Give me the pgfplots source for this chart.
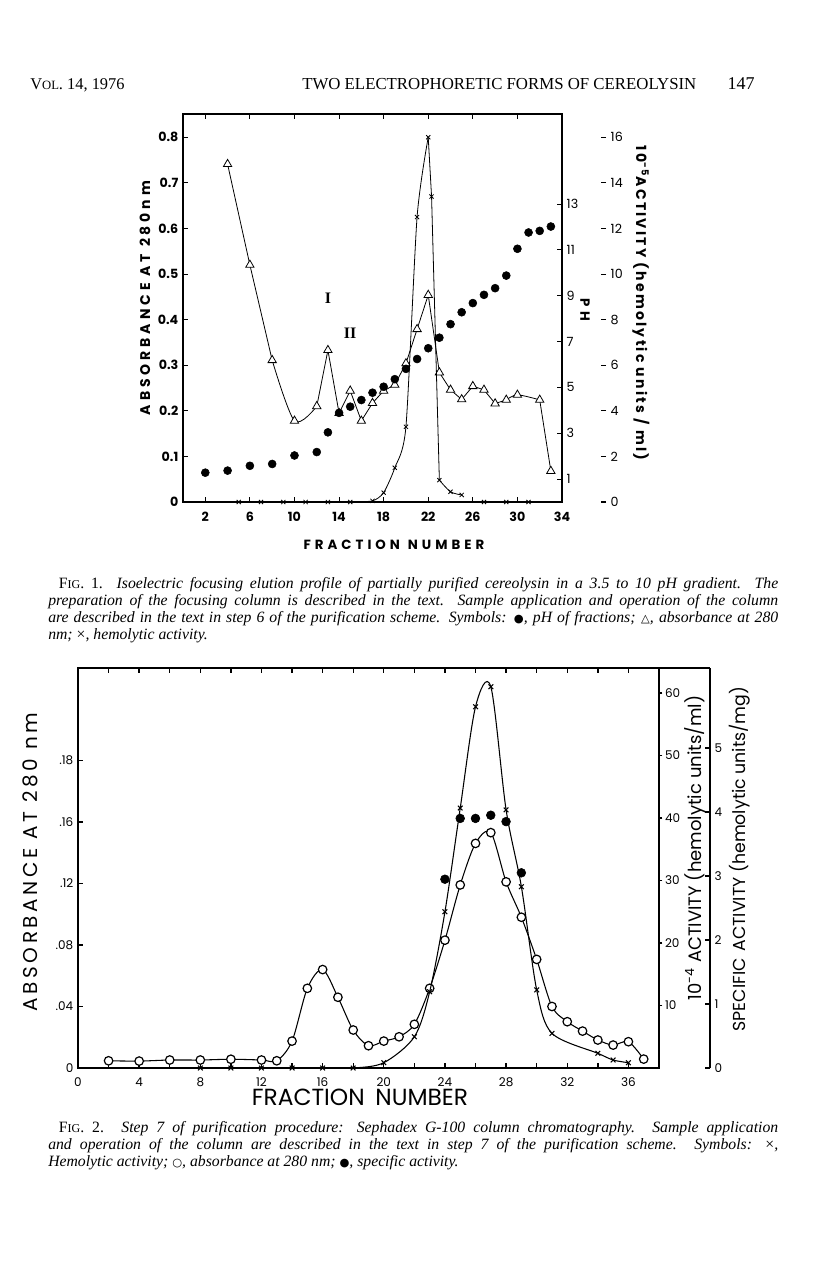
\documentclass[border=0pt]{standalone}
\usepackage{pgfplots}
\pgfplotsset{compat=1.18}
\usepackage{pgfplotstable}
\usepackage{fontspec}
\setmainfont{Liberation Serif}
\newfontfamily\figfont{Poppins}
\newfontfamily\symfont{DejaVu Sans}

% ---------- Fig. 1: isoelectric focusing ----------
% absorbance at 280 nm (triangles)
\pgfplotstableread{
frac abs
4 0.741
6 0.520
8 0.311
10 0.178
12 0.210
13 0.333
14 0.195
15 0.244
16 0.178
17 0.217
18 0.244
19 0.257
20 0.304
21 0.379
22 0.454
23 0.284
24 0.246
25 0.225
26 0.254
27 0.246
28 0.216
29 0.224
30 0.235
32 0.224
33 0.068
}\absone

% pH of fractions (dots)
\pgfplotstableread{
frac ph
2 1.28
4 1.37
6 1.58
8 1.66
10 2.03
12 2.18
13 3.04
14 3.89
15 4.16
16 4.45
17 4.77
18 5.03
19 5.36
20 5.81
21 6.24
22 6.71
23 7.17
24 7.76
25 8.28
26 8.68
27 9.04
28 9.33
29 9.88
30 11.05
31 11.76
32 11.83
33 12.02
}\phone

% hemolytic activity, 10^-5 units/ml (crosses)
\pgfplotstableread{
frac act
5 0
7 0
9 0
11 0
13 0
15 0
17 0.05
18 0.41
19 1.5
20 3.3
21 12.5
22 16.0
22.3 13.4
23 0.96
24 0.45
25 0.31
27 0
29 0
31 0
}\actone

% ---------- Fig. 2: Sephadex G-100 ----------
\pgfplotstableread{
frac abs
2 0.0047
4 0.0045
6 0.0052
8 0.0052
10 0.0057
12 0.0052
13 0.0047
14 0.0175
15 0.0518
16 0.0640
17 0.0460
18 0.0247
19 0.0145
20 0.0175
21 0.0203
22 0.0284
23 0.0518
24 0.0831
25 0.1190
26 0.1460
27 0.1530
28 0.1210
29 0.0980
30 0.0706
31 0.0400
32 0.0301
33 0.0240
34 0.0182
35 0.0149
36 0.0171
37 0.0058
}\abstwo

\pgfplotstableread{
frac act
8 0
10 0
12 0
14 0
16 0
18 0
20 0.85
22 5.0
23 12.2
24 25.0
25 41.6
26 57.8
27 61.0
28 41.3
29 29.0
30 12.5
31 5.55
34 2.35
35 1.28
36 0.85
}\acttwo

\pgfplotstableread{
frac spec
24 2.95
25 3.90
26 3.90
27 3.95
28 3.85
29 3.05
}\spectwo

% 1 px of the page = 0.75pt; axes anchored at their lower left corner
\pgfplotsset{
  figone/.style={at={(137.25pt,-376.5pt)}, anchor=south west, scale only axis,
    height=291pt, ymin=0, tick align=inside, major tick length=4pt,
    axis line style={line width=0.8pt}, tick style={line width=0.8pt, black},
    /pgf/number format/assume math mode=true,
    clip=false},
  figtwo/.style={at={(58.5pt,-801pt)}, anchor=south west, scale only axis,
    height=300pt, ymin=0, major tick length=4pt,
    axis line style={line width=1pt}, tick style={line width=1pt, black},
    ticklabel style={font=\figfont\fontsize{9}{10}\selectfont},
    /pgf/number format/assume math mode=true,
    clip=false},
}

\begin{document}
\begin{tikzpicture}
\begin{scope}[x=0.75pt,y=-0.75pt]
\path[use as bounding box] (0,0) rectangle (816,1265);

% running head
\node[anchor=base west,inner sep=0,font=\fontsize{12.3}{14}\selectfont] at (30,89) {V{\fontsize{9.5}{10}\selectfont OL}. 14, 1976};
\node[anchor=base west,inner sep=0,font=\fontsize{12.6}{15}\selectfont] at (302,89) {TWO ELECTROPHORETIC FORMS OF CEREOLYSIN};
\node[anchor=base east,inner sep=0,font=\fontsize{13.5}{15}\selectfont] at (755,89) {147};

% Fig. 1 labels
\node[rotate=90,font=\figfont\bfseries\fontsize{10.5}{12}\selectfont\addfontfeature{LetterSpace=28}] at (145,298) {ABSORBANCE AT 280nm};
\node[font=\figfont\bfseries\fontsize{10}{12}\selectfont\addfontfeature{LetterSpace=30}] at (394,545) {FRACTION\hspace{6pt}NUMBER};
\node[rotate=-90,font=\figfont\bfseries\fontsize{10}{12}\selectfont\addfontfeature{LetterSpace=30}] at (585,310) {PH};
\node[rotate=-90,font=\figfont\bfseries\fontsize{10.5}{12}\selectfont\addfontfeature{LetterSpace=16}] at (641,303) {10\textsuperscript{-5}ACTIVITY (hemolytic units / ml)};
\node[font=\bfseries\fontsize{12}{13}\selectfont] at (328,298) {I};
\node[font=\bfseries\fontsize{12}{13}\selectfont] at (350,333) {II};

% caption 1
\node[anchor=north west,inner sep=0] at (48,577) {\parbox{547.5pt}{\fontsize{11.8}{12.75}\selectfont\itshape
\hspace*{8pt}{\upshape F{\fontsize{9}{10}\selectfont IG}. 1.} Isoelectric focusing elution profile of partially purified cereolysin in a 3.5 to 10 pH gradient. The\linebreak
preparation of the focusing column is described in the text. Sample application and operation of the column\linebreak
are described in the text in step 6 of the purification scheme. Symbols: {\upshape\symfont\fontsize{8.5}{10}\selectfont ●}, pH of fractions; {\upshape\symfont\fontsize{8.5}{10}\selectfont △}, absorbance at 280\linebreak
nm; {\upshape ×}, hemolytic activity.}};

% Fig. 2 labels
\node[rotate=90,font=\figfont\fontsize{15}{16}\selectfont\addfontfeature{LetterSpace=18}] at (30,862) {ABSORBANCE AT 280 nm};
\node[font=\figfont\fontsize{17.5}{19}\selectfont] at (360,1097) {FRACTION\hspace{8pt}NUMBER};
\node[rotate=90,font=\figfont\fontsize{13.5}{15}\selectfont] at (695,848) {10\textsuperscript{-4} ACTIVITY (hemolytic units/ml)};
\node[rotate=90,font=\figfont\fontsize{13}{14}\selectfont] at (740,859) {SPECIFIC\hspace{5pt}ACTIVITY (hemolytic units/mg)};

% caption 2
\node[anchor=north west,inner sep=0] at (48,1121) {\parbox{547.5pt}{\fontsize{11.8}{12.75}\selectfont\itshape
\hspace*{8pt}{\upshape F{\fontsize{9}{10}\selectfont IG}. 2.} Step 7 of purification procedure: Sephadex G-100 column chromatography. Sample application\linebreak
and operation of the column are described in the text in step 7 of the purification scheme. Symbols: {\upshape ×},\linebreak
Hemolytic activity; {\upshape\symfont\fontsize{8.5}{10}\selectfont ○}, absorbance at 280 nm; {\upshape\symfont\fontsize{8.5}{10}\selectfont ●}, specific activity.}};
\end{scope}

% ===== Fig. 1 =====
\begin{axis}[figone, width=284.25pt,
  xmin=0, xmax=34, ymax=0.851,
  xtick={2,6,...,34}, ytick={0,0.1,...,0.8},
  yticklabels={0,0.1,0.2,0.3,0.4,0.5,0.6,0.7,0.8},
  xtick pos=both, ytick pos=left,
  ticklabel style={font=\figfont\bfseries\fontsize{9.5}{10}\selectfont},
  xticklabel style={yshift=-4pt}]
\addplot[black, line width=0.6pt, sharp plot, no marks, restrict x to domain=4:8] table {\absone};
\addplot[black, line width=0.6pt, smooth, no marks, restrict x to domain=8:12] table {\absone};
\addplot[black, line width=0.6pt, sharp plot, no marks, restrict x to domain=12:29] table {\absone};
\addplot[black, line width=0.6pt, smooth, no marks, restrict x to domain=29:32] table {\absone};
\addplot[black, line width=0.6pt, sharp plot, no marks, restrict x to domain=32:33] table {\absone};
\addplot[only marks, mark=triangle*, mark size=3.6pt,
  mark options={fill=white, draw=black, line width=0.6pt}] table {\absone};
\end{axis}

\begin{axis}[figone, width=284.25pt,
  xmin=0, xmax=34, ymax=16.93,
  axis x line=none, axis y line*=right,
  ytick={1,3,...,13},
  ticklabel style={font=\figfont\fontsize{9.5}{10}\selectfont}]
\addplot[only marks, mark=*, mark size=3pt, black] table {\phone};
\end{axis}

\begin{axis}[figone, width=317.25pt,
  xmin=0, xmax=37.95, ymax=17.02,
  axis x line=none, axis y line*=right, y axis line style={draw=none},
  ytick={0,2,...,16},
  ticklabel style={font=\figfont\fontsize{9.5}{10}\selectfont}]
\addplot[black, line width=0.6pt, sharp plot, no marks, restrict x to domain=5:15] table {\actone};
\addplot[black, line width=0.6pt, smooth, tension=0.4, no marks, restrict x to domain=15:22] table {\actone};
\addplot[black, line width=0.6pt, sharp plot, no marks, restrict x to domain=22:23] table {\actone};
\addplot[black, line width=0.6pt, smooth, no marks, restrict x to domain=23:25] table {\actone};
\addplot[only marks, mark=x, mark size=2.2pt, black, mark options={line width=0.6pt}] table {\actone};
\end{axis}

% ===== Fig. 2 =====
\begin{axis}[figtwo, width=435.75pt,
  xmin=0, xmax=38, ymax=0.26,
  xtick={0,2,...,36}, xticklabels={0,,4,,8,,12,,16,,20,,24,,28,,32,,36},
  ytick={0,0.04,0.08,0.12,0.16,0.2}, yticklabels={0,.04,.08,.12,.16,.18},
  xtick pos=both, ytick pos=left, tick align=inside,
  xticklabel style={yshift=-4pt}]
\addplot[black, line width=0.8pt, smooth, mark=*, mark size=3.2pt,
  mark options={fill=white, draw=black, line width=0.9pt}] table {\abstwo};
\end{axis}

\begin{axis}[figtwo, width=435.75pt,
  xmin=0, xmax=38, ymax=64,
  axis x line=none, axis y line*=right,
  ytick={10,20,...,60}, tick align=outside, major tick length=2.5pt,
  yticklabel style={xshift=-1.5pt}]
\addplot[black, line width=0.8pt, smooth, mark=x, mark size=2.5pt, mark options={line width=0.8pt}] table {\acttwo};
\end{axis}

\begin{axis}[figtwo, width=474pt,
  xmin=0, xmax=41.34, ymax=6.25,
  axis x line*=top, xtick=\empty, axis y line*=right,
  ytick={0,1,...,5}, tick align=inside]
\addplot[only marks, mark=*, mark size=3.3pt, black] table {\spectwo};
\end{axis}
\end{tikzpicture}
\end{document}
